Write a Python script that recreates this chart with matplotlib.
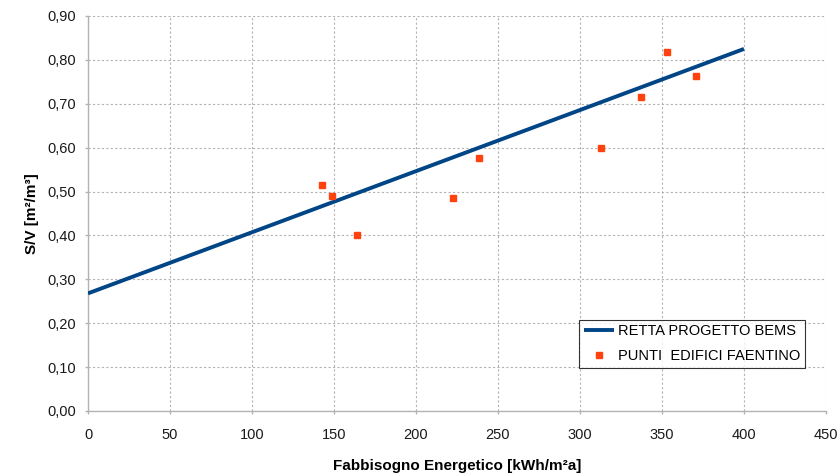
import matplotlib
matplotlib.use("Agg")
import matplotlib.pyplot as plt
from matplotlib.ticker import FuncFormatter

plt.rcParams['font.family'] = ['Liberation Sans', 'DejaVu Sans']

# Regression line of the BEMS project
line_x = [0, 400]
line_y = [0.268, 0.825]

# Surveyed buildings in Faenza
pts_x = [142.9, 149.0, 163.8, 222.4, 238.4, 312.6, 337.0, 353.0, 371.0]
pts_y = [0.514, 0.490, 0.401, 0.485, 0.576, 0.600, 0.715, 0.819, 0.764]

x_ticks = list(range(0, 451, 50))
y_ticks = [i / 10 for i in range(0, 10)]

line_label = "RETTA PROGETTO BEMS"
pts_label = "PUNTI  EDIFICI FAENTINO"
x_title = "Fabbisogno Energetico [kWh/m²a]"
y_title = "S/V [m²/m³]"

fig = plt.figure(figsize=(8.38, 4.74), dpi=100)
ax = fig.add_axes([88 / 838, 63 / 474, 738 / 838, 395 / 474])

ax.plot(line_x, line_y, color="#004586", lw=2.8, solid_capstyle="butt",
        label=line_label, zorder=3)
ax.plot(pts_x, pts_y, ls="none", marker="s", ms=4.8, color="#ff420e",
        mec="#ff420e", label=pts_label, zorder=4)

ax.set_xlim(0, 450)
ax.set_ylim(0, 0.9)
ax.set_xticks(x_ticks)
ax.set_yticks(y_ticks)
ax.yaxis.set_major_formatter(FuncFormatter(lambda v, p: f"{v:.2f}".replace(".", ",")))

ax.grid(True, color="#b3b3b3", lw=0.8, ls=(0, (2, 2)))
ax.set_axisbelow(True)

for s in ("top", "right"):
    ax.spines[s].set_visible(False)
for s in ("left", "bottom"):
    ax.spines[s].set_color("#b3b3b3")
    ax.spines[s].set_linewidth(1.0)

ax.tick_params(axis="both", length=2.4, width=1.0, color="#b3b3b3",
               labelsize=10.5, labelcolor="#1a1a1a")
ax.tick_params(axis="x", pad=10)
ax.tick_params(axis="y", pad=6.5)

ax.set_xlabel(x_title, fontsize=11, fontweight="bold", labelpad=12)
ax.set_ylabel(y_title, fontsize=11, fontweight="bold", labelpad=6)

leg = ax.legend(loc="upper left", bbox_to_anchor=(0.6657, 0.2304), fontsize=10.5,
                frameon=True, fancybox=False, borderaxespad=0, handlelength=2.1,
                handletextpad=0.25, borderpad=0.3, labelspacing=0.75,
                markerscale=1.0)
leg.get_frame().set_edgecolor("black")
leg.get_frame().set_linewidth(0.8)

fig.savefig("out.png", dpi=100)
